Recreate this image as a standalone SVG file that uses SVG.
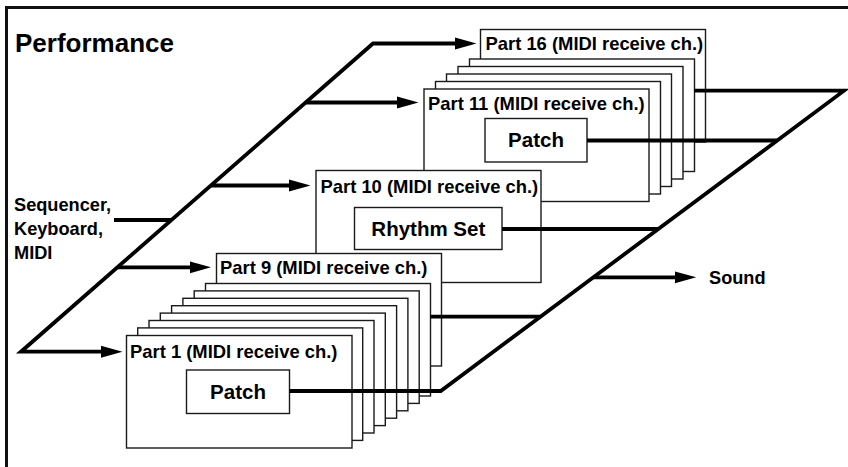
<svg xmlns="http://www.w3.org/2000/svg" width="848" height="467" viewBox="0 0 848 467">
<defs>
<style>
.box{fill:#fff;stroke:#1a1a1a;stroke-width:1.4}
.t{font-family:"Liberation Sans",Arial,Helvetica,sans-serif;font-weight:bold;fill:#000}
.pl{font-size:18.4px}
.lbl{font-size:18.2px}
.in{font-size:20.5px;text-anchor:middle}
.w{fill:none;stroke:#000;stroke-width:3.8;stroke-linejoin:miter;stroke-miterlimit:6}
</style>
<marker id="ah" markerUnits="userSpaceOnUse" markerWidth="22" markerHeight="14" viewBox="0 0 22 14" refX="13" refY="7" orient="auto-start-reverse">
<path d="M0,1 L21.5,7 L0,13 z" fill="#000"/>
</marker>
</defs>
<rect x="0" y="0" width="848" height="467" fill="#fff"/>
<rect x="6.5" y="7.5" width="900" height="500" fill="none" stroke="#111" stroke-width="3"/>
<text class="t" x="15" y="52" style="font-size:26px">Performance</text>
<g id="labels">
<text class="t lbl" x="14" y="211">Sequencer,</text>
<text class="t lbl" x="14" y="235">Keyboard,</text>
<text class="t lbl" x="14" y="259">MIDI</text>
<text class="t lbl" x="709" y="284">Sound</text>
</g>
<g id="part16"><rect class="box" x="480.5" y="29.5" width="225" height="112.5"/><text class="t pl" x="485.5" y="49.5">Part 16 (MIDI receive ch.)</text></g>
<g id="part15"><rect class="box" x="469.5" y="59" width="225" height="112.5"/></g>
<g id="part14"><rect class="box" x="458" y="66.5" width="225" height="112.5"/></g>
<g id="part13"><rect class="box" x="446.5" y="74" width="225" height="112.5"/></g>
<g id="part12"><rect class="box" x="435.5" y="81.5" width="225" height="112.5"/></g>
<g id="part11"><rect class="box" x="424" y="89" width="225" height="112.5"/><text class="t pl" x="428" y="109.5">Part 11 (MIDI receive ch.)</text>
<g id="patch11"><rect class="box" x="485" y="118.5" width="102" height="43.5"/><text class="t in" x="536" y="147.3">Patch</text></g></g>
<g id="part10"><rect class="box" x="316" y="170.5" width="225" height="112"/><text class="t pl" x="320.5" y="193">Part 10 (MIDI receive ch.)</text>
<g id="rhythm"><rect class="box" x="354.5" y="207.5" width="147.5" height="42"/><text class="t in" x="428.3" y="235.5">Rhythm Set</text></g></g>
<g id="part9"><rect class="box" x="216.5" y="253.5" width="225" height="112.5"/><text class="t pl" x="220" y="274">Part 9 (MIDI receive ch.)</text></g>
<g id="part8"><rect class="box" x="205.5" y="283.5" width="225" height="112.5"/></g>
<g id="part7"><rect class="box" x="194.2" y="290.9" width="225" height="112.5"/></g>
<g id="part6"><rect class="box" x="182.9" y="298.3" width="225" height="112.5"/></g>
<g id="part5"><rect class="box" x="171.6" y="305.7" width="225" height="112.5"/></g>
<g id="part4"><rect class="box" x="160.3" y="313.1" width="225" height="112.5"/></g>
<g id="part3"><rect class="box" x="149" y="320.5" width="225" height="112.5"/></g>
<g id="part2"><rect class="box" x="137.7" y="327.9" width="225" height="112.5"/></g>
<g id="part1"><rect class="box" x="126.5" y="335.5" width="225.5" height="112.5"/><text class="t pl" x="130" y="358">Part 1 (MIDI receive ch.)</text>
<g id="patch1"><rect class="box" x="186.5" y="370" width="103" height="43.5"/><text class="t in" x="238" y="398.5">Patch</text></g></g>
<g id="connectors">
<path class="w" d="M114,351.7 L21,351.7 L373,43.5 L468,43.5" marker-start="url(#ah)" marker-end="url(#ah)"/>
<path class="w" d="M305.7,102.5 L410,102.5" marker-end="url(#ah)"/>
<path class="w" d="M211,185.5 L302,185.5" marker-end="url(#ah)"/>
<path class="w" d="M117.6,267.3 L202.5,267.3" marker-end="url(#ah)"/>
<path class="w" d="M114,220 L171.6,220"/>
<path class="w" d="M694.5,90.7 L844,90.7 L440.7,391 L289.5,391"/>
<path class="w" d="M587,140.5 L777.1,140.5"/>
<path class="w" d="M502,229 L658.3,229"/>
<path class="w" d="M430.5,316.7 L540.5,316.7"/>
<path class="w" d="M593.4,277.3 L687.7,277.3" marker-end="url(#ah)"/>
</g>
</svg>
